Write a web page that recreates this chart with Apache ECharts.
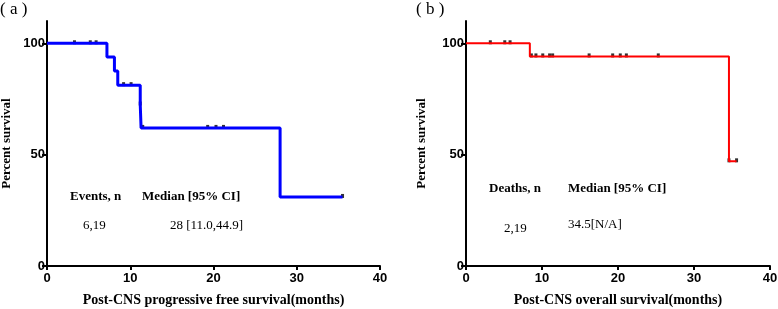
<!DOCTYPE html>
<html>
<head>
<meta charset="utf-8">
<script src="https://cdn.jsdelivr.net/npm/echarts@6/dist/echarts.min.js"></script>
<style>
html, body { margin: 0; padding: 0; background: #fff; }
#container { width: 778px; height: 309px; }
</style>
</head>
<body>
<div id="container"></div>
<script>
var dom = document.getElementById('container');
var myChart = echarts.init(dom, null, { renderer: 'canvas' });

// (a) progression-free survival, step points (time, percent)
var pfsTimes = [0, 7.2, 8.1, 8.5, 11.2, 11.3, 28.0, 35.5];
var pfsSurv = [100, 93.8, 87.5, 81.2, 72.5, 62.0, 31.0, 31.0];
var pfsCensTimes = [3.3, 5.2, 5.9, 9.2, 10.1, 11.2, 11.5, 19.3, 20.3, 21.2, 35.5];
var pfsCensSurv = [100, 100, 100, 81.2, 81.2, 72.5, 62.0, 62.0, 62.0, 62.0, 31.0];

// (b) overall survival
var osTimes = [0, 8.4, 34.6, 35.6];
var osSurv = [100, 94.1, 47.0, 47.0];
var osCensTimes = [3.2, 5.1, 5.8, 8.6, 9.2, 10.1, 11.0, 11.4, 16.2, 19.3, 20.3, 21.1, 25.3, 34.6, 35.6];
var osCensSurv = [100, 100, 100, 94.1, 94.1, 94.1, 94.1, 94.1, 94.1, 94.1, 94.1, 94.1, 94.1, 47.0, 47.0];

var yTicks = [0, 50, 100];

function zip(a, b) {
    return a.map(function (v, i) { return [v, b[i]]; });
}

var serif = '"Liberation Serif", "Times New Roman", serif';
var sans = '"Liberation Sans", Arial, sans-serif';

function xAxisFor(idx, name) {
    return {
        gridIndex: idx, type: 'value', min: 0, max: 40, interval: 10,
        name: name, nameLocation: 'middle', nameGap: 27,
        nameTextStyle: { fontFamily: serif, fontWeight: 'bold', fontSize: 14, color: '#000' },
        axisLine: { lineStyle: { color: '#000', width: 2 } },
        axisTick: { show: true, length: 4, lineStyle: { color: '#000', width: 2 } },
        axisLabel: { fontFamily: sans, fontWeight: 'bold', fontSize: 13, color: '#000', margin: 6 },
        splitLine: { show: false }
    };
}

function yAxisFor(idx, gap) {
    return {
        gridIndex: idx, type: 'value', min: 0, max: 110,
        name: 'Percent survival', nameLocation: 'middle', nameGap: gap, nameRotate: 90,
        nameTextStyle: { fontFamily: serif, fontWeight: 'bold', fontSize: 13, color: '#000' },
        axisLine: { show: true, lineStyle: { color: '#000', width: 2 } },
        axisTick: { show: true, length: 5, lineStyle: { color: '#000', width: 2 },
            customValues: yTicks },
        axisLabel: { fontFamily: sans, fontWeight: 'bold', fontSize: 13, color: '#000', margin: 2,
            customValues: yTicks },
        splitLine: { show: false }
    };
}

var option = {
    animation: false,
    grid: [
        { left: 47, right: 398, top: 21, bottom: 43, outerBoundsMode: 'none' },
        { left: 466, right: 8, top: 21, bottom: 43, outerBoundsMode: 'none' }
    ],
    xAxis: [
        xAxisFor(0, 'Post-CNS progressive free survival(months)'),
        xAxisFor(1, 'Post-CNS overall survival(months)')
    ],
    yAxis: [yAxisFor(0, 34), yAxisFor(1, 38)],
    graphic: [
        { type: 'text', left: 0, top: 1, style: { text: '( a )', font: '17px ' + serif, fill: '#000' } },
        { type: 'text', left: 416, top: 1, style: { text: '( b )', font: '17px ' + serif, fill: '#000' } },
        { type: 'text', left: 70, top: 190, style: { text: 'Events, n', font: 'bold 13px ' + serif, fill: '#000' } },
        { type: 'text', left: 142, top: 190, style: { text: 'Median [95% CI]', font: 'bold 13px ' + serif, fill: '#000' } },
        { type: 'text', left: 83, top: 219, style: { text: '6,19', font: '13px ' + serif, fill: '#000' } },
        { type: 'text', left: 170, top: 219, style: { text: '28 [11.0,44.9]', font: '13px ' + serif, fill: '#000' } },
        { type: 'text', left: 489, top: 182, style: { text: 'Deaths, n', font: 'bold 13px ' + serif, fill: '#000' } },
        { type: 'text', left: 568, top: 182, style: { text: 'Median [95% CI]', font: 'bold 13px ' + serif, fill: '#000' } },
        { type: 'text', left: 504, top: 222, style: { text: '2,19', font: '13px ' + serif, fill: '#000' } },
        { type: 'text', left: 568, top: 218, style: { text: '34.5[N/A]', font: '13px ' + serif, fill: '#000' } }
    ],
    series: [
        {
            type: 'line', xAxisIndex: 0, yAxisIndex: 0, step: 'end', showSymbol: false,
            lineStyle: { color: '#0000ff', width: 3 }, data: zip(pfsTimes, pfsSurv)
        },
        {
            type: 'scatter', xAxisIndex: 0, yAxisIndex: 0, symbol: 'rect', symbolSize: [3, 4],
            symbolOffset: [0, -1], itemStyle: { color: '#000' }, data: zip(pfsCensTimes, pfsCensSurv)
        },
        {
            type: 'line', xAxisIndex: 1, yAxisIndex: 1, step: 'end', showSymbol: false,
            lineStyle: { color: '#ff0000', width: 2 }, data: zip(osTimes, osSurv)
        },
        {
            type: 'scatter', xAxisIndex: 1, yAxisIndex: 1, symbol: 'rect', symbolSize: [3, 4],
            symbolOffset: [0, -1], itemStyle: { color: '#000' }, data: zip(osCensTimes, osCensSurv)
        }
    ]
};

myChart.setOption(option);
window.addEventListener('resize', myChart.resize);
</script>
</body>
</html>
